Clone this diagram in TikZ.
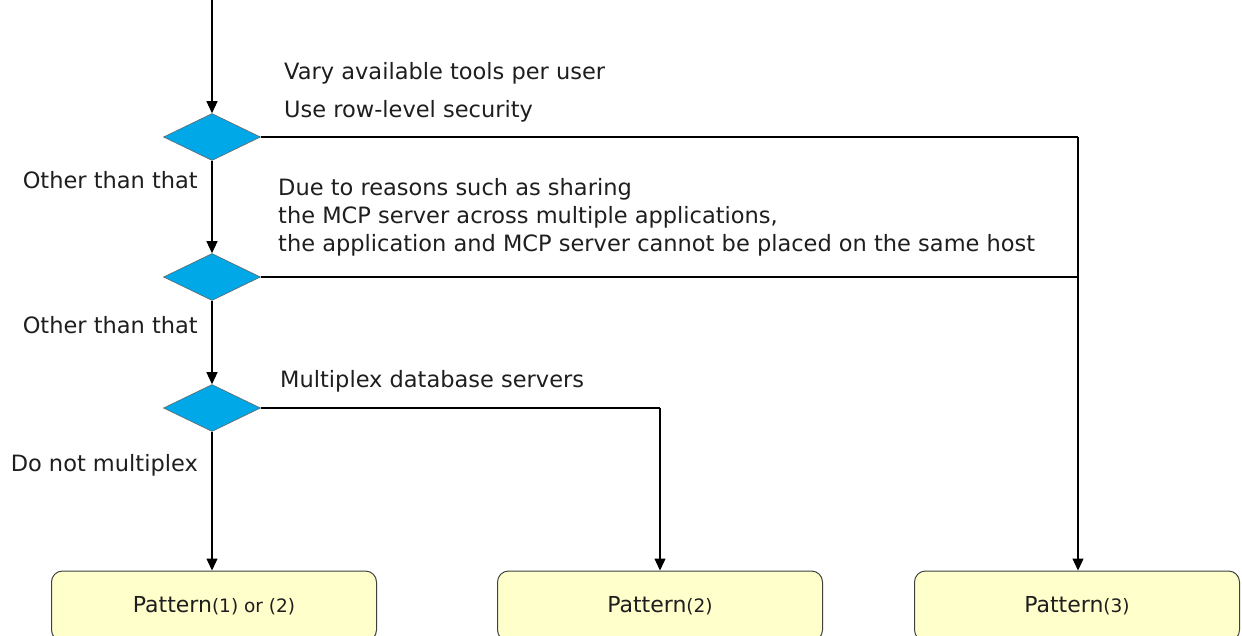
\documentclass[tikz,border=0pt]{standalone}
\usepackage{fontspec}
\setmainfont{DejaVu Sans}
\usepackage{tikz}
\usetikzlibrary{arrows.meta}
\usetikzlibrary{calc}
\usetikzlibrary{shapes}

\definecolor{decisionblue}{RGB}{0,168,232}
\definecolor{patternyellow}{RGB}{255,255,204}
\definecolor{textgray}{RGB}{30,30,30}

\begin{document}
\begin{tikzpicture}[x=1pt, y=-1pt,
        decision_style/.style={diamond,draw=black!60,line width=0.6pt,fill=decisionblue,minimum width=97pt,minimum height=47pt,inner sep=0pt},
        pattern_style/.style={rectangle,rounded corners=11pt,draw=black!75,line width=1pt,fill=patternyellow,minimum width=325pt,minimum height=70pt,text=textgray,font=\fontsize{22}{26}\selectfont},
        label_style/.style={inner sep=0pt,text=textgray,font=\fontsize{22.5}{27}\selectfont},
        edge_style/.style={draw=black, line width=1.3pt,-},
        arrow_style/.style={draw=black, line width=1.3pt,-{Triangle[length=12pt,width=11pt]}}]

        \useasboundingbox (0,0) rectangle (1242,635);
        \clip (0,0) rectangle (1242,635);

        \coordinate (start) at (212,0);
        \node [decision_style](d1) at (212,137) {};
        \node [decision_style](d2) at (212,277) {};
        \node [decision_style](d3) at (212,408) {};
        \node [pattern_style](p1) at (214,606) {Pattern{\fontsize{18.5}{22}\selectfont(1) or (2)}};
        \node [pattern_style](p2) at (660,606) {Pattern{\fontsize{18.5}{22}\selectfont(2)}};
        \node [pattern_style](p3) at (1077,606) {Pattern{\fontsize{18.5}{22}\selectfont(3)}};
        \coordinate (c1) at (1078,137);
        \coordinate (c2) at (1078,277);
        \coordinate (c3) at (660,408);

        % conditions
        \node [label_style, anchor=base west](l1) at (284,79) {Vary available tools per user};
        \node [label_style, anchor=base west](l2) at (284,117) {Use row-level security};
        \node [label_style, anchor=base west](l3) at (278,195) {Due to reasons such as sharing};
        \node [label_style, anchor=base west](l4) at (278,223) {the MCP server across multiple applications,};
        \node [label_style, anchor=base west](l5) at (278,251) {the application and MCP server cannot be placed on the same host};
        \node [label_style, anchor=base west](l6) at (280,387) {Multiplex database servers};
        \node [label_style, anchor=base east](o1) at (198,188) {Other than that};
        \node [label_style, anchor=base east](o2) at (198,333) {Other than that};
        \node [label_style, anchor=base east](o3) at (198,471) {Do not multiplex};

        \draw [arrow_style] (start) -- (d1);
        \draw [arrow_style] (d1) -- (d2);
        \draw [arrow_style] (d2) -- (d3);
        \draw [arrow_style] (d3) -- (d3 |- p1.north);
        \draw [edge_style] (d1.east) -- (c1);
        \draw [arrow_style] (c1) -- (c1 |- p3.north);
        \draw [edge_style] (d2.east) -- (c2);
        \draw [edge_style] (d3.east) -- (c3);
        \draw [arrow_style] (c3) -- (c3 |- p2.north);
\end{tikzpicture}
\end{document}
